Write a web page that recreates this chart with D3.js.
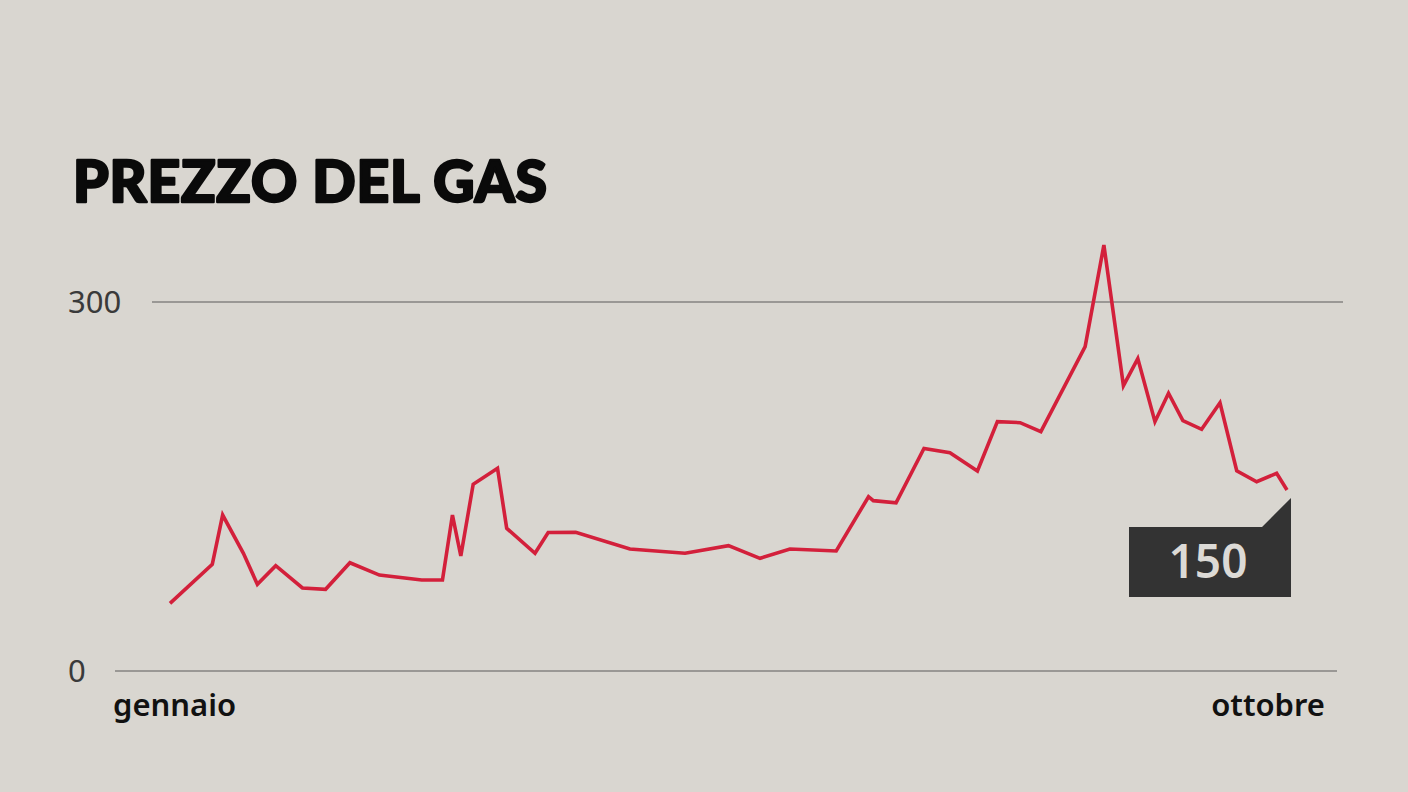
<!DOCTYPE html>
<html><head><meta charset="utf-8">
<script src="https://cdn.jsdelivr.net/npm/d3@7"></script>
<style>
html,body{margin:0;padding:0;background:#d9d6d0;}
svg{display:block;}
</style></head>
<body>
<svg id="chart" width="1408" height="792"></svg>
<script>
// Data: day of year (approx) and price
const days = [0, 10.6, 13.2, 18.4, 21.9, 26.5, 33.2, 39.0, 45.1, 52.5, 63.1, 68.3, 70.8, 72.9, 76.0, 82.1, 84.4, 91.5, 94.8, 101.7, 115.3, 129.1, 140.0, 147.9, 155.4, 167.0, 175.1, 176.3, 182.0, 189.0, 195.5, 202.4, 207.4, 213.1, 218.3, 229.4, 234.1, 239.0, 242.6, 246.9, 250.3, 253.9, 258.6, 263.2, 267.4, 272.4, 277.4, 280];
const prices = [55, 86.7, 126.8, 95.7, 70.5, 85.6, 67.5, 66.4, 88, 78, 74, 74, 126.8, 93.5, 151.8, 164.8, 116, 95.7, 112.6, 112.8, 99.2, 95.7, 101.9, 91.6, 99.2, 97.6, 141.7, 138.5, 136.8, 181, 177.5, 162.6, 202.7, 201.9, 194.6, 263.7, 346.3, 232, 254, 202.7, 225.8, 203.5, 196.5, 218.1, 162.8, 153.9, 160.7, 147.2];
const yTicks = [0, 300];
const xLabels = ["gennaio", "ottobre"];
const title = "PREZZO DEL GAS";
const lastLabel = "150";

(function () {
const svg = d3.select("#chart");
const x = d3.scaleLinear().domain([0, 280]).range([170, 1287]);
const y = d3.scaleLinear().domain([0, 300]).range([671, 302]);

// Title
svg.append("text").attr("x", 73).attr("y", 202)
  .attr("font-family", "Lato, Roboto, sans-serif").attr("font-weight", 900)
  .attr("font-size", 57).attr("fill", "#0a0a0a")
  .attr("stroke", "#0a0a0a").attr("stroke-width", 2.4).attr("stroke-linejoin", "round")
  .attr("textLength", 474).attr("lengthAdjust", "spacing")
  .text(title);

// Gridlines
const gridExt = {0: [115, 1337], 300: [152, 1343]};
svg.selectAll("line.grid").data(yTicks).join("line").attr("class", "grid")
  .attr("x1", d => gridExt[d][0]).attr("x2", d => gridExt[d][1])
  .attr("y1", d => y(d)).attr("y2", d => y(d))
  .attr("stroke", "#9a9895").attr("stroke-width", 2.2);

svg.selectAll("text.ytick").data(yTicks).join("text").attr("class", "ytick")
  .attr("x", 68).attr("y", d => y(d) + 11)
  .attr("font-family", "'Noto Sans', sans-serif").attr("font-size", 31)
  .attr("fill", "#3a3a3a").text(d => d);

// X labels
svg.append("text").attr("x", 113).attr("y", 716)
  .attr("font-family", "'Noto Sans', sans-serif").attr("font-weight", 600)
  .attr("font-size", 31).attr("fill", "#111").text(xLabels[0]);
svg.append("text").attr("x", 1325).attr("y", 716).attr("text-anchor", "end")
  .attr("font-family", "'Noto Sans', sans-serif").attr("font-weight", 600)
  .attr("font-size", 31).attr("fill", "#111").text(xLabels[1]);

// Line
const pts = days.map((d, i) => [d, prices[i]]);
svg.append("path").datum(pts)
  .attr("d", d3.line().x(d => x(d[0])).y(d => y(d[1])))
  .attr("fill", "none").attr("stroke", "#d3203b").attr("stroke-width", 3.6)
  .attr("stroke-linejoin", "miter");

// End label box
const lx = x(days[days.length - 1]), ly = y(prices[prices.length - 1]);
const bRight = lx + 4, bNotch = ly + 8, bTop = ly + 37, bBottom = ly + 107, bLeft = lx - 158;
svg.append("polygon")
  .attr("points", [[bLeft, bTop], [bRight - 29, bTop], [bRight, bNotch], [bRight, bBottom], [bLeft, bBottom]].map(p => p.join(",")).join(" "))
  .attr("fill", "#333333");
svg.append("text").attr("x", (bLeft + bRight) / 2 - 2).attr("y", bBottom - 19)
  .attr("text-anchor", "middle")
  .attr("font-family", "'Noto Sans', sans-serif").attr("font-weight", 600)
  .attr("font-size", 46).attr("fill", "#dcdad6").text(lastLabel);
})();
</script>
</body></html>
